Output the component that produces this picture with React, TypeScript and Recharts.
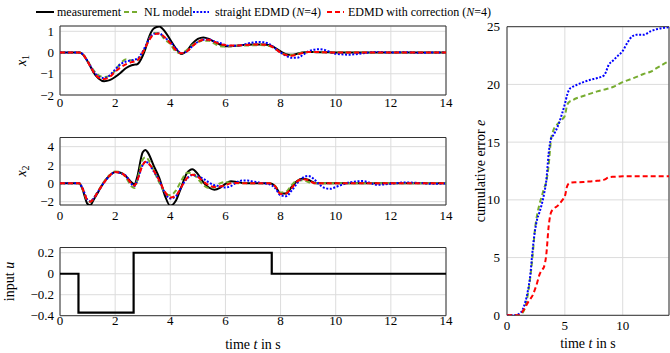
import React from 'react';
import { LineChart, Line, XAxis, YAxis, CartesianGrid, ReferenceArea } from 'recharts';

// ---------- data ----------
const T = [
  0, 0.2, 0.4, 0.6, 0.7, 0.8,
  1.0, 1.1, 1.2, 1.4, 1.6, 1.8,
  2.0, 2.2, 2.4, 2.6, 2.7, 2.8,
  3.0, 3.1, 3.2, 3.4, 3.6, 3.8,
  4.0, 4.2, 4.4, 4.6, 4.8,
  5.0, 5.2, 5.4, 5.6, 5.8,
  6.0, 6.2, 6.4, 6.6, 6.8,
  7.0, 7.2, 7.4, 7.6, 7.8,
  8.0, 8.2, 8.4, 8.6, 8.8,
  9.0, 9.2, 9.4, 9.6, 9.8,
  10.0, 10.5, 11, 11.5, 12, 12.5, 13, 13.5, 14,
];

const X1_MEAS = [
  0, 0, 0, 0, 0, -0.06,
  -0.42, -0.65, -0.9, -1.22, -1.35, -1.3,
  -1.15, -0.95, -0.73, -0.6, -0.57, -0.55,
  -0.15, 0.18, 0.62, 1.13, 1.23, 1.0,
  0.6, 0.2, -0.07, 0.08, 0.42,
  0.64, 0.71, 0.64, 0.5, 0.38,
  0.3, 0.3, 0.32, 0.35, 0.37,
  0.38, 0.38, 0.38, 0.35, 0.22,
  0.05, -0.08, -0.11, -0.06, 0.0,
  0.02, 0.02, 0.01, 0.01, 0.01,
  0, 0, 0, 0, 0, 0, 0, 0, 0,
];
const X1_NL = [
  0, 0, 0, 0, 0, -0.05,
  -0.38, -0.6, -0.8, -1.07, -1.15, -1.1,
  -0.85, -0.5, -0.32, -0.38, -0.38, -0.35,
  0.0, 0.25, 0.55, 0.92, 0.9, 0.62,
  0.4, 0.05, -0.03, 0.12, 0.35,
  0.5, 0.56, 0.55, 0.42, 0.3,
  0.28, 0.3, 0.32, 0.33, 0.33,
  0.34, 0.35, 0.34, 0.3, 0.18,
  0.0, -0.1, -0.12, -0.08, 0.0,
  0.02, 0.03, 0.02, 0.01, 0,
  0, 0, 0, 0, 0, 0, 0, 0, 0,
];
const X1_EDMD = [
  0, 0, 0, 0, 0, -0.05,
  -0.4, -0.62, -0.85, -1.13, -1.2, -1.08,
  -0.8, -0.55, -0.42, -0.37, -0.33, -0.3,
  0.05, 0.3, 0.55, 0.88, 0.9, 0.7,
  0.5, 0.2, -0.03, 0.05, 0.3,
  0.5, 0.6, 0.62, 0.52, 0.45,
  0.35, 0.32, 0.32, 0.35, 0.42,
  0.47, 0.5, 0.48, 0.4, 0.2,
  0.0, -0.15, -0.25, -0.25, -0.12,
  0.05, 0.13, 0.16, 0.12, 0.02,
  -0.06, -0.1, -0.03, 0.03, 0.0, 0.02, -0.01, 0.0, 0.0,
];
const X1_CORR = [
  0, 0, 0, 0, 0, -0.05,
  -0.42, -0.65, -0.88, -1.18, -1.25, -1.15,
  -0.9, -0.7, -0.55, -0.45, -0.42, -0.38,
  0.0, 0.25, 0.5, 0.85, 0.9, 0.72,
  0.45, 0.12, -0.03, 0.05, 0.3,
  0.5, 0.6, 0.6, 0.5, 0.4,
  0.35, 0.33, 0.33, 0.34, 0.36,
  0.38, 0.38, 0.37, 0.33, 0.18,
  0.0, -0.12, -0.15, -0.1, -0.02,
  0.02, 0.03, 0.02, 0.01, 0,
  0, 0, 0, 0, 0, 0, 0, 0, 0,
];

const X2_MEAS = [
  0, 0, 0, 0, 0, -0.5,
  -2.25, -2.4, -1.9, -0.85, 0.15, 0.85,
  1.25, 1.15, 0.75, 0.1, -0.15, 0.7,
  3.4, 3.65, 3.3, 1.9, 0.6, -1.3,
  -2.45, -1.9, -0.4, 1.1, 1.55,
  1.0, 0.1, -0.45, -0.7, -0.5,
  -0.05, 0.22, 0.15, 0.05, 0.02,
  0, 0, 0, 0, -0.3,
  -1.1, -1.1, -0.4, 0.25, 0.5,
  0.4, 0.1, 0, 0, 0,
  0, 0, 0, 0, 0, 0, 0, 0, 0,
];
const X2_NL = [
  0, 0, 0, 0, 0, -0.45,
  -1.9, -2.0, -1.7, -0.75, 0.2, 0.9,
  1.3, 1.2, 0.6, -0.35, -0.5, 0.3,
  2.6, 2.85, 2.6, 1.4, 0.1, -1.0,
  -1.3, -0.8, 0.3, 1.15, 1.1,
  0.5, -0.2, -0.5, -0.4, 0.0,
  0.15, 0.05, 0.02, 0.02, 0.02,
  0.02, 0.02, 0.0, 0.0, -0.3,
  -1.0, -0.9, -0.2, 0.3, 0.35,
  0.15, 0.0, 0, 0, 0,
  0, 0, 0, 0, 0, 0, 0, 0, 0,
];
const X2_EDMD = [
  0, 0, 0, 0, 0, -0.4,
  -1.8, -1.95, -1.7, -0.8, 0.1, 0.8,
  1.25, 1.1, 0.8, -0.1, -0.3, 0.3,
  2.0, 2.35, 2.2, 1.3, 0.3, -1.0,
  -1.65, -1.4, -0.4, 0.5, 0.9,
  0.75, 0.5, 0.1, -0.2, -0.3,
  -0.45, -0.3, 0.1, 0.3, 0.3,
  0.2, 0.1, 0.0, -0.1, -0.5,
  -1.3, -1.4, -0.8, 0.0, 0.6,
  0.8, 0.5, -0.1, -0.5, -0.6,
  -0.4, 0.1, 0.25, -0.15, -0.05, 0.1, 0.05, -0.05, 0.0,
];
const X2_CORR = [
  0, 0, 0, 0, 0, -0.45,
  -1.85, -2.0, -1.75, -0.8, 0.1, 0.85,
  1.25, 1.15, 0.7, -0.05, -0.25, 0.3,
  2.0, 2.35, 2.2, 1.4, 0.3, -0.9,
  -1.55, -1.35, -0.4, 0.55, 0.95,
  0.7, 0.2, -0.2, -0.4, -0.35,
  -0.2, 0.0, 0.05, 0.02, 0.02,
  0.02, 0.02, 0.02, 0.0, -0.3,
  -1.15, -1.1, -0.5, 0.2, 0.45,
  0.35, 0.05, 0, 0, 0,
  0, 0, 0, 0, 0, 0, 0, 0, 0,
];

const U_T = [0, 0.67, 2.67, 7.68, 14];
const U_V = [0, -0.37, 0.2, 0, 0];

const TE = [
  0, 0.5, 1.0, 1.4, 1.8, 2.0, 2.2, 2.4, 2.6, 2.8,
  3.0, 3.2, 3.4, 3.6, 3.8, 4.0, 4.4, 4.8, 5.0, 5.2,
  5.4, 5.6, 6.0, 6.6, 7.2, 7.8, 8.4, 8.8, 9.2, 9.6,
  10.0, 10.4, 10.8, 11.2, 11.8, 12.4, 13.0, 13.6, 14,
];
const E_NL = [
  0, 0, 0.02, 0.3, 1.8, 3.2, 5.0, 7.3, 8.7, 9.6,
  10.3, 11.0, 11.6, 13.0, 15.2, 16.0, 16.6, 17.0, 17.3, 18.2,
  18.5, 18.6, 18.8, 19.0, 19.2, 19.4, 19.55, 19.65, 19.8, 20.0,
  20.2, 20.35, 20.5, 20.65, 20.9, 21.1, 21.45, 21.8, 22.0,
];
const E_EDMD = [
  0, 0, 0.1, 0.6, 2.1, 3.35, 5.5, 7.2, 8.3, 8.9,
  9.6, 10.5, 11.7, 14.0, 15.3, 15.6, 16.4, 17.6, 18.3, 19.1,
  19.6, 19.75, 19.95, 20.2, 20.4, 20.55, 20.8, 21.7, 22.1, 22.5,
  22.9, 23.6, 24.15, 24.3, 24.3, 24.6, 24.8, 24.9, 24.95,
];
const E_CORR = [
  0, 0, 0, 0.4, 1.1, 1.4, 1.7, 2.2, 2.8, 3.5,
  3.9, 4.2, 5.3, 7.7, 8.9, 9.2, 9.5, 10.0, 10.3, 11.2,
  11.45, 11.5, 11.52, 11.55, 11.6, 11.65, 11.75, 11.95, 12.0, 12.02,
  12.05, 12.05, 12.05, 12.05, 12.05, 12.05, 12.05, 12.05, 12.05,
];

const X_TICKS_LEFT = [0, 2, 4, 6, 8, 10, 12, 14];
const X_TICKS_RIGHT = [0, 5, 10];
const Y_TICKS_X1 = [-2, -1, 0, 1];
const Y_TICKS_X2 = [-2, 0, 2, 4];
const Y_TICKS_U = [-0.4, -0.2, 0, 0.2];
const Y_TICKS_E = [0, 5, 10, 15, 20, 25];

// ---------- styles ----------
const FONT = '"Liberation Serif"';
const C_MEAS = '#000000';
const C_NL = '#77ac30';
const C_EDMD = '#0000ff';
const C_CORR = '#ff0000';
const DASH = '5 3';
const DOT = '2 1.6';
const W = 670;
const H = 353;

const fmt = (v: number) => (v < 0 ? '\u2212' + String(Math.abs(v)) : String(v));

const dataX = T.map((t, i) => ({
  t,
  x1m: X1_MEAS[i], x1n: X1_NL[i], x1e: X1_EDMD[i], x1c: X1_CORR[i],
  x2m: X2_MEAS[i], x2n: X2_NL[i], x2e: X2_EDMD[i], x2c: X2_CORR[i],
}));
const dataU = U_T.map((t, i) => ({ t, u: U_V[i] }));
const dataE = TE.map((t, i) => ({ t, n: E_NL[i], e: E_EDMD[i], c: E_CORR[i] }));

type Box = { l: number; t: number; r: number; b: number };

function Tick(props: any) {
  const { x, y, payload, textAnchor, dy, orientation } = props;
  const isX = orientation === 'bottom';
  return (
    <text
      x={x} y={y} dy={isX ? '0.71em' : '0.355em'} textAnchor={textAnchor}
      style={{ fontFamily: FONT, fontSize: 13, fill: '#000' }}
    >
      {fmt(payload.value)}
    </text>
  );
}

function Panel(props: {
  box: Box; data: any[]; xTicks: number[]; xMax: number; yDomain: [number, number];
  yTicks: number[]; xTickMargin: number; yTickMargin: number; children: React.ReactNode;
}) {
  const { box, data, xTicks, xMax, yDomain, yTicks, xTickMargin, yTickMargin, children } = props;
  const YW = 50;
  const XH = 20;
  const margin = { left: box.l - YW, top: box.t, right: W - box.r, bottom: H - box.b - XH };
  return (
    <div style={{ position: 'absolute', left: 0, top: 0, width: W, height: H }}>
      <LineChart width={W} height={H} data={data} margin={margin} style={{ fontFamily: FONT }}>
        <CartesianGrid stroke="#dcdcdc" strokeWidth={1} />
        <XAxis
          type="number" dataKey="t" domain={[0, xMax]} ticks={xTicks} interval={0}
          allowDataOverflow axisLine={false} tickLine={false} tickSize={0}
          tickMargin={xTickMargin} height={XH} tick={<Tick />}
        />
        <YAxis
          type="number" domain={yDomain} ticks={yTicks} interval={0} allowDataOverflow
          axisLine={false} tickLine={false} tickSize={0} tickMargin={yTickMargin}
          width={YW} tick={<Tick />}
        />
        <ReferenceArea
          x1={0} x2={xMax} y1={yDomain[0]} y2={yDomain[1]}
          fill="none" fillOpacity={0} stroke="#333" strokeWidth={1} ifOverflow="visible"
        />
        {children}
      </LineChart>
    </div>
  );
}

function series(key: string, color: string, dash?: string, width = 2, type: any = 'monotone') {
  return (
    <Line
      key={key} type={type} dataKey={key} stroke={color} strokeWidth={width}
      strokeDasharray={dash} dot={false} activeDot={false} isAnimationActive={false}
    />
  );
}

function Overlay() {
  const t12 = { fontSize: 12, fontFamily: FONT, fill: '#000' };
  const t14 = { fontSize: 14, fontFamily: FONT, fill: '#000' };
  return (
    <svg width={W} height={H} style={{ position: 'absolute', left: 0, top: 0, pointerEvents: 'none' }}>
      {/* legend */}
      <line x1={36} y1={12} x2={54} y2={12} stroke={C_MEAS} strokeWidth={2} />
      <text x={57} y={16} style={t12}>measurement</text>
      <line x1={124} y1={12} x2={140} y2={12} stroke={C_NL} strokeWidth={2} strokeDasharray={DASH} />
      <text x={144} y={16} style={t12}>NL model</text>
      <line x1={193} y1={12} x2={209} y2={12} stroke={C_EDMD} strokeWidth={2} strokeDasharray={DOT} />
      <text x={215} y={16} style={t12}>
        straight EDMD (<tspan fontStyle="italic">N</tspan>=4)
      </text>
      <line x1={327} y1={12} x2={344} y2={12} stroke={C_CORR} strokeWidth={2} strokeDasharray={DASH} />
      <text x={348} y={16} style={t12}>
        EDMD with correction (<tspan fontStyle="italic">N</tspan>=4)
      </text>

      {/* axis labels */}
      <text transform="translate(26,60.5) rotate(-90)" textAnchor="middle" style={t14}>
        <tspan fontStyle="italic">x</tspan>
        <tspan fontSize={10} dy={3}>1</tspan>
      </text>
      <text transform="translate(26,171) rotate(-90)" textAnchor="middle" style={t14}>
        <tspan fontStyle="italic">x</tspan>
        <tspan fontSize={10} dy={3}>2</tspan>
      </text>
      <text transform="translate(14,281.5) rotate(-90)" textAnchor="middle" style={t14}>
        input <tspan fontStyle="italic">u</tspan>
      </text>
      <text transform="translate(485,171) rotate(-90)" textAnchor="middle" style={t14}>
        cumulative error <tspan fontStyle="italic">e</tspan>
      </text>
      <text x={253} y={349} textAnchor="middle" style={t14}>
        time <tspan fontStyle="italic">t</tspan> in s
      </text>
      <text x={588} y={348} textAnchor="middle" style={t14}>
        time <tspan fontStyle="italic">t</tspan> in s
      </text>
    </svg>
  );
}

export default function App() {
  return (
    <div style={{ position: 'absolute', left: 0, top: 0, width: W, height: H, background: '#fff', fontFamily: FONT }}>
      <Panel box={{ l: 60, t: 26, r: 446, b: 95 }} data={dataX} xTicks={X_TICKS_LEFT} xMax={14}
        yDomain={[-2, 1.25]} yTicks={Y_TICKS_X1} xTickMargin={2.5} yTickMargin={6}>
        {series('x1m', C_MEAS)}
        {series('x1n', C_NL, DASH)}
        {series('x1e', C_EDMD, DOT)}
        {series('x1c', C_CORR, DASH)}
      </Panel>
      <Panel box={{ l: 60, t: 137.5, r: 446, b: 205 }} data={dataX} xTicks={X_TICKS_LEFT} xMax={14}
        yDomain={[-2.36, 5]} yTicks={Y_TICKS_X2} xTickMargin={5.5} yTickMargin={6}>
        {series('x2m', C_MEAS)}
        {series('x2n', C_NL, DASH)}
        {series('x2e', C_EDMD, DOT)}
        {series('x2c', C_CORR, DASH)}
      </Panel>
      <Panel box={{ l: 60, t: 247.5, r: 446, b: 315.7 }} data={dataU} xTicks={X_TICKS_LEFT} xMax={14}
        yDomain={[-0.4, 0.25]} yTicks={Y_TICKS_U} xTickMargin={0} yTickMargin={6}>
        {series('u', C_MEAS, undefined, 2.2, 'stepAfter')}
      </Panel>
      <Panel box={{ l: 507, t: 26.7, r: 669, b: 315.3 }} data={dataE} xTicks={X_TICKS_RIGHT} xMax={14}
        yDomain={[0, 25]} yTicks={Y_TICKS_E} xTickMargin={5} yTickMargin={7}>
        {series('n', C_NL, DASH)}
        {series('e', C_EDMD, DOT)}
        {series('c', C_CORR, DASH)}
      </Panel>
      <Overlay />
    </div>
  );
}
